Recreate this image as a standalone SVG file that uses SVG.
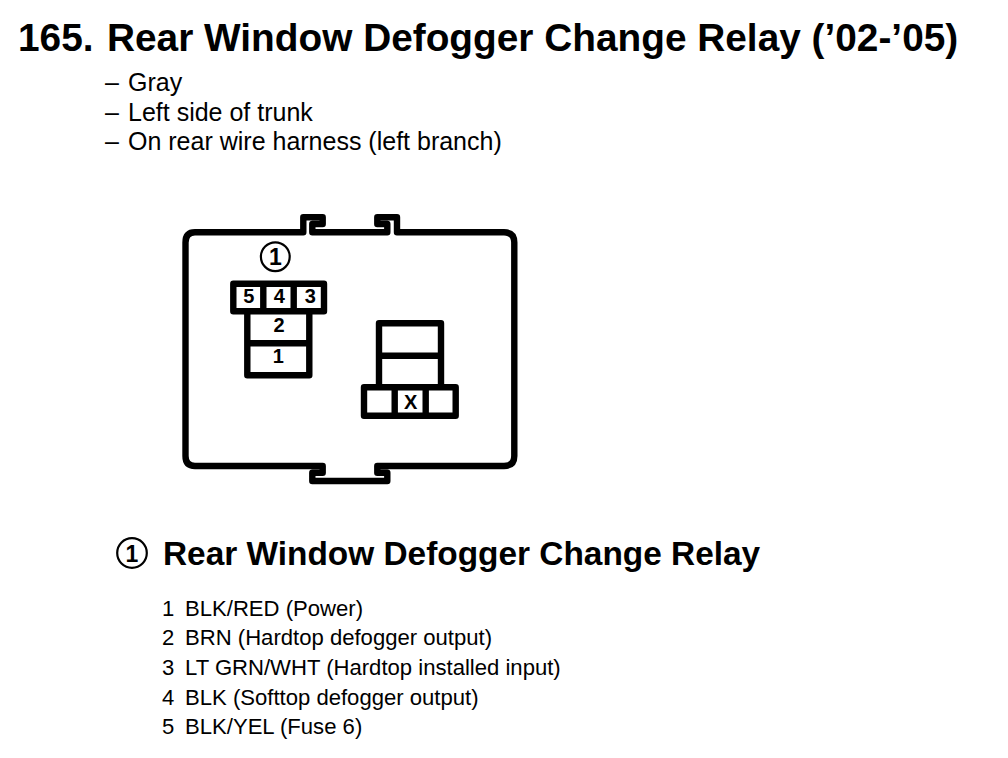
<svg xmlns="http://www.w3.org/2000/svg" width="1008" height="758" viewBox="0 0 1008 758">
<style>
text{font-family:"Liberation Sans",Arial,sans-serif;fill:#000}
.t{font-size:38.8px;font-weight:bold}
.h{font-size:33.4px;font-weight:bold}
.b{font-size:25px}
.l{font-size:22.1px}
.p{font-size:20px;font-weight:bold;text-anchor:middle}
.n{font-size:23px;font-weight:bold;text-anchor:middle}
.s{fill:none;stroke:#000;stroke-width:6.4;stroke-linejoin:round}
.c{fill:none;stroke:#000;stroke-width:2.2}
</style>
<rect width="1008" height="758" fill="#fff"/>
<text class="t" x="18" y="50.5">165.</text>
<text class="t" x="107" y="50.5">Rear Window Defogger Change Relay (’02-’05)</text>
<text class="b" y="91"><tspan x="105">–</tspan><tspan x="128">Gray</tspan></text>
<text class="b" y="120.5"><tspan x="105">–</tspan><tspan x="128">Left side of trunk</tspan></text>
<text class="b" y="150"><tspan x="105">–</tspan><tspan x="128">On rear wire harness (left branch)</tspan></text>
<g id="housing"><path class="s" d="M195 232.3H303.3V217.3H322.7V224H312.3V232.3H387.3V224H377.3V217.3H397V232.3H504Q514.3 232.3 514.3 242.6V456Q514.3 466 504 466H377.3V472.7H387.3V481H312.3V472.7H322.7V466H195Q185.5 466 185.5 456V242.6Q185.5 232.3 195 232.3Z"/></g>
<g id="callout"><circle class="c" cx="275.3" cy="256.7" r="14.4"/><text class="n" x="275.3" y="265">1</text></g>
<g id="connector-1">
<rect class="s" x="233.3" y="283.7" width="90.7" height="27.6"/>
<path class="s" d="M263.3 283.7V311.3M293.7 283.7V311.3"/>
<path class="s" d="M247.3 311.3V375.3H309.3V311.3M247.3 343.3H309.3"/>
<text class="p" x="248.7" y="303.3">5</text><text class="p" x="279.3" y="303.3">4</text><text class="p" x="310.3" y="303.3">3</text>
<text class="p" x="279" y="331.7">2</text><text class="p" x="278.3" y="363.3">1</text>
</g>
<g id="connector-x">
<path class="s" d="M379 387.3V323.3H441V387.3M379 355.7H441"/>
<rect class="s" x="364" y="387.3" width="91.7" height="28.4"/>
<path class="s" d="M394.7 387.3V415.7M425.7 387.3V415.7"/>
<text class="p" x="410.7" y="409">X</text>
</g>
<g id="legend">
<circle class="c" cx="132" cy="553" r="14.8"/><text class="n" x="132" y="561.5">1</text>
<text class="h" x="163" y="565">Rear Window Defogger Change Relay</text>
<text class="l" x="162" y="616">1</text><text class="l" x="185" y="616">BLK/RED (Power)</text>
<text class="l" x="162" y="645">2</text><text class="l" x="185" y="645">BRN (Hardtop defogger output)</text>
<text class="l" x="162" y="675">3</text><text class="l" x="185" y="675">LT GRN/WHT (Hardtop installed input)</text>
<text class="l" x="162" y="705">4</text><text class="l" x="185" y="705">BLK (Softtop defogger output)</text>
<text class="l" x="162" y="734">5</text><text class="l" x="185" y="734">BLK/YEL (Fuse 6)</text>
</g>
</svg>
